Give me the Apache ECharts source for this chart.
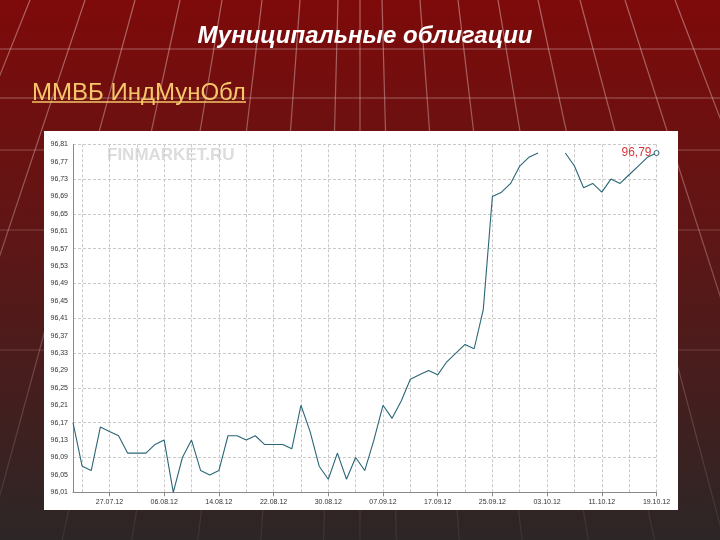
<!DOCTYPE html>
<html><head><meta charset="utf-8">
<script src="https://cdn.jsdelivr.net/npm/echarts@6/dist/echarts.min.js"></script>
<style>html,body{margin:0;padding:0;background:#5a1818}#c{width:720px;height:540px}</style>
</head><body><div id="c"></div>
<script>
const titleText = 'Муниципальные облигации';
const subtitleText = 'ММВБ ИндМунОбл';
const watermark = 'FINMARKET.RU';
const dates = ['23.07.12','24.07.12','25.07.12','26.07.12','27.07.12','30.07.12','31.07.12','01.08.12','02.08.12','03.08.12',
'06.08.12','07.08.12','08.08.12','09.08.12','10.08.12','13.08.12','14.08.12','15.08.12','16.08.12','17.08.12',
'20.08.12','21.08.12','22.08.12','23.08.12','24.08.12','27.08.12','28.08.12','29.08.12','30.08.12','31.08.12',
'03.09.12','04.09.12','05.09.12','06.09.12','07.09.12','10.09.12','11.09.12','12.09.12','13.09.12','14.09.12',
'17.09.12','18.09.12','19.09.12','20.09.12','21.09.12','24.09.12','25.09.12','26.09.12','27.09.12','28.09.12',
'01.10.12','02.10.12','03.10.12','04.10.12','05.10.12','08.10.12','09.10.12','10.10.12','11.10.12','12.10.12',
'15.10.12','16.10.12','17.10.12','18.10.12','19.10.12'];
const values = [96.17,96.07,96.06,96.16,96.15,96.14,96.10,96.10,96.10,96.12,
96.13,96.01,96.09,96.13,96.06,96.05,96.06,96.14,96.14,96.13,
96.14,96.12,96.12,96.12,96.11,96.21,96.15,96.07,96.04,96.10,
96.04,96.09,96.06,96.13,96.21,96.18,96.22,96.27,96.28,96.29,
96.28,96.31,96.33,96.35,96.34,96.43,96.69,96.70,96.72,96.76,
96.78,96.79,null,null,96.79,96.76,96.71,96.72,96.70,96.73,
96.72,96.74,96.76,96.78,96.79];
const yMin = 96.01, yMax = 96.81, yLabelStep = 0.04, yGridStep = 0.08;

const fmt = v => v.toFixed(2).replace('.', ',');

// decorative background lines (slide template)
const deco = [];
const vp = [360, -825];
const tops = [-420,-300,-190,-100,-30,30,85,135,180,222,262,300,338,360,382,420,458,498,538,580,625,675,735,800,880,980,1100];
tops.forEach(xt => {
  const dx = (xt - vp[0]) / (0 - vp[1]);
  deco.push({type:'line', z:-20, silent:true, shape:{x1:xt, y1:0, x2:xt + dx*540, y2:540},
    style:{stroke:{type:'linear', x:0, y:0, x2:0, y2:1, colorStops:[
      {offset:0, color:'rgba(225,190,190,0.5)'}, {offset:0.6, color:'rgba(225,190,190,0.3)'}, {offset:1, color:'rgba(225,190,190,0.08)'}]},
      lineWidth:1.2}});
});
[[49,0.45], [98,0.45], [150,0.35], [230,0.28], [350,0.22]].forEach(([y, a]) => {
  deco.push({type:'line', z:-20, silent:true, shape:{x1:0, y1:y, x2:720, y2:y},
    style:{stroke:'rgba(225,190,190,' + a + ')', lineWidth:1.2}});
});

const chart = echarts.init(document.getElementById('c'));
const lastIdx = values.length - 1;
const seriesData = values.map((v, i) => i === lastIdx ? {
  value: v, symbol: 'circle', symbolSize: 5,
  itemStyle: {color: '#ffffff', borderColor: '#2a6676', borderWidth: 1},
  label: {show: true, position: 'left', distance: 2, formatter: p => fmt(p.value), color: '#d23a3a', fontSize: 12, fontFamily: 'Liberation Sans'}
} : v);

chart.setOption({
  animation: false,
  backgroundColor: {type:'linear', x:0, y:0, x2:0, y2:1, colorStops:[
    {offset:0, color:'#7e0a0a'}, {offset:0.45, color:'#5e1616'}, {offset:1, color:'#2c2626'}]},
  graphic: [
    ...deco,
    {type:'rect', z:-10, silent:true, shape:{x:44, y:131, width:634, height:379}, style:{fill:'#ffffff'}},
    {type:'text', z:-5, x:107, y:147, style:{text: watermark, fill:'#dcdcdc', font:'bold 17px "Liberation Sans"'}},
    {type:'text', x:365, y:24, style:{text: titleText, fill:'#ffffff', textAlign:'center', font:'italic bold 24px "Liberation Sans"'}},
    {type:'text', x:32, y:81, style:{text: subtitleText, fill:'#f6c66a', font:'24px "Liberation Sans"'}},
    {type:'line', shape:{x1:32, y1:102, x2:246, y2:102}, style:{stroke:'#f6c66a', lineWidth:1.5}}
  ],
  grid: {left: 73, right: 63.5, top: 144.3, bottom: 47.7, containLabel: false},
  xAxis: {
    type: 'category', data: dates, boundaryGap: false,
    axisLine: {lineStyle: {color: '#8a8a8a', width: 1}},
    axisTick: {show: true, interval: (i) => i % 6 === 4, length: 4, lineStyle: {color: '#8a8a8a'}},
    axisLabel: {interval: (i) => i % 6 === 4, color: '#333', fontSize: 7, margin: 6, fontFamily: 'Liberation Sans'},
    splitLine: {show: true, interval: (i) => i % 3 === 1, lineStyle: {color: '#c9c9c9', type: [3, 2], width: 1}}
  },
  yAxis: [{
    type: 'value', min: yMin, max: yMax, interval: yLabelStep,
    axisLine: {show: true, lineStyle: {color: '#8a8a8a'}},
    axisTick: {show: false},
    axisLabel: {formatter: fmt, color: '#333', fontSize: 7, margin: 5, fontFamily: 'Liberation Sans'},
    splitLine: {show: false}
  }, {
    type: 'value', min: yMin, max: yMax, interval: yGridStep, position: 'left',
    axisLine: {show: false}, axisTick: {show: false}, axisLabel: {show: false},
    splitLine: {show: true, lineStyle: {color: '#c9c9c9', type: [3, 2], width: 1}}
  }],
  series: [{
    type: 'line', data: seriesData, yAxisIndex: 0, showSymbol: true, symbol: 'none',
    connectNulls: false,
    lineStyle: {color: '#2a6676', width: 1.1},
    z: 5
  }]
});
</script></body></html>
